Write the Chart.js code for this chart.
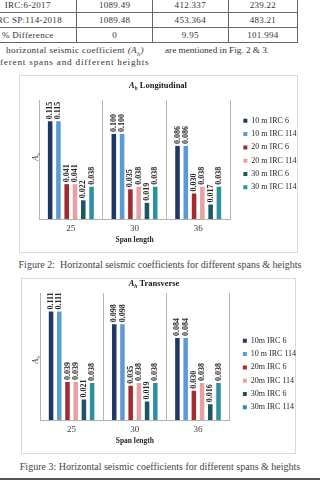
<!DOCTYPE html>
<html><head><meta charset="utf-8">
<script src="https://cdn.jsdelivr.net/npm/chart.js@4.4.1/dist/chart.umd.min.js"></script>
<style>
html,body{margin:0;padding:0;}
body{width:320px;height:481px;overflow:hidden;position:relative;background:#fff;font-family:"Liberation Serif","DejaVu Serif",serif;color:#333;}
.tbl{position:absolute;left:-22px;top:-3px;border-collapse:collapse;table-layout:fixed;font-size:9px;letter-spacing:0.3px;}
.tbl td{border:1px solid #666;text-align:center;padding:0;height:14px;line-height:14px;white-space:nowrap;overflow:hidden;}
.txt{position:absolute;font-size:9.2px;letter-spacing:0.35px;white-space:nowrap;color:#333;line-height:12px;}
.cap{position:absolute;left:0;width:320px;text-align:center;font-size:10px;color:#444;white-space:nowrap;line-height:12px;}
.box{position:absolute;border:1px solid #d9d9d9;box-sizing:border-box;}
canvas{position:absolute;}
.rule{position:absolute;left:0;width:320px;top:478px;height:2px;background:#555;}
</style>
</head><body>
<table class="tbl" id="tbl">
<colgroup><col style="width:107px"><col style="width:88px"><col style="width:89px"><col style="width:80px"></colgroup>
<tbody id="tbody"></tbody>
</table>
<div class="txt" style="left:6px;top:44px;">horizontal seismic coefficient <i>(A<sub style="font-size:6px">h</sub>)</i></div>
<div class="txt" style="left:165px;top:44px;letter-spacing:0;">are mentioned in Fig. 2 &amp; 3.</div>
<div class="txt" style="left:0px;top:56px;letter-spacing:0.8px;">ferent spans and different heights</div>

<div class="box" style="left:19px;top:75px;width:279px;height:178px;"></div>
<canvas id="c1" width="289" height="178" style="left:19px;top:75px;width:289px;height:178px;"></canvas>
<div class="cap" style="top:259px;">Figure 2:&nbsp; Horizontal seismic coefficients for different spans &amp; heights</div>

<div class="box" style="left:21px;top:278px;width:275px;height:176px;"></div>
<canvas id="c2" width="285" height="176" style="left:21px;top:278px;width:285px;height:176px;"></canvas>
<div class="cap" style="top:461px;">Figure 3: Horizontal seismic coefficients for different spans &amp; heights</div>
<div class="rule"></div>

<script>
// ---- table data ----
const tableRowNames = ['IRC:6-2017', 'IRC SP:114-2018', '% Difference'];
const tableCol1 = ['1089.49', '1089.48', '0'];
const tableCol2 = ['412.337', '453.364', '9.95'];
const tableCol3 = ['239.22', '483.21', '101.994'];

// ---- chart data ----
const spans = ['25', '30', '36'];
const longSeriesNames = ['10 m IRC 6', '10 m IRC 114', '20 m IRC 6', '20 m IRC 114', '30 m IRC 6', '30 m IRC 114'];
const transSeriesNames = ['10m IRC 6', '10 m IRC 114', '20m IRC 6', '20m IRC 114', '30m IRC 6', '30m IRC 114'];

const long10IRC6   = [0.115, 0.100, 0.086];
const long10IRC114 = [0.115, 0.100, 0.086];
const long20IRC6   = [0.041, 0.035, 0.030];
const long20IRC114 = [0.041, 0.038, 0.038];
const long30IRC6   = [0.022, 0.019, 0.017];
const long30IRC114 = [0.038, 0.038, 0.038];

const trans10IRC6   = [0.111, 0.098, 0.084];
const trans10IRC114 = [0.111, 0.098, 0.084];
const trans20IRC6   = [0.039, 0.035, 0.030];
const trans20IRC114 = [0.039, 0.038, 0.038];
const trans30IRC6   = [0.021, 0.019, 0.016];
const trans30IRC114 = [0.038, 0.038, 0.038];

const seriesColors = ['#1f3864', '#5b9bd5', '#a32b2f', '#e6a1a4', '#1d5561', '#2e8fa3'];

// build table
const tb = document.getElementById('tbody');
tableRowNames.forEach((n, i) => {
  const tr = document.createElement('tr');
  [n, tableCol1[i], tableCol2[i], tableCol3[i]].forEach(v => {
    const td = document.createElement('td'); td.textContent = v; tr.appendChild(td);
  });
  tb.appendChild(tr);
});

const FONT = '"Liberation Serif", "DejaVu Serif", serif';

const valueLabels = {
  id: 'valueLabels',
  afterDatasetsDraw(chart) {
    const ctx = chart.ctx;
    ctx.save();
    ctx.font = 'bold 8px ' + FONT;
    ctx.fillStyle = '#262626';
    ctx.textAlign = 'left';
    ctx.textBaseline = 'middle';
    chart.data.datasets.forEach((ds, i) => {
      chart.getDatasetMeta(i).data.forEach((bar, j) => {
        ctx.save();
        ctx.translate(bar.x, bar.y - 2);
        ctx.rotate(-Math.PI / 2);
        ctx.fillText(ds.data[j].toFixed(3), 0, 0);
        ctx.restore();
      });
    });
    ctx.restore();
  }
};

function drawAh(ctx, x, y, size, bold, suffix) {
  const w = bold ? 'bold ' : '';
  const fA = 'italic ' + w + size + 'px ' + FONT;
  const fh = 'italic ' + w + (size * 0.62) + 'px ' + FONT;
  const fs = w + size + 'px ' + FONT;
  ctx.font = fA; const wA = ctx.measureText('A').width;
  ctx.font = fh; const wh = ctx.measureText('h').width;
  ctx.font = fs; const ws = suffix ? ctx.measureText(suffix).width : 0;
  const total = wA + wh + ws;
  const sx = x - total / 2;
  ctx.textAlign = 'left';
  ctx.textBaseline = 'middle';
  ctx.font = fA; ctx.fillText('A', sx, y);
  ctx.font = fh; ctx.fillText('h', sx + wA, y + size * 0.3);
  if (suffix) { ctx.font = fs; ctx.fillText(suffix, sx + wA + wh, y); }
}

const titles = {
  id: 'titles',
  afterDraw(chart, args, opts) {
    const ctx = chart.ctx;
    ctx.save();
    ctx.fillStyle = '#1a1a1a';
    drawAh(ctx, opts.tx, opts.ty, 8.5, true, ' ' + opts.text);
    ctx.translate(opts.yx, opts.yy);
    ctx.rotate(-Math.PI / 2);
    ctx.fillStyle = '#404040';
    drawAh(ctx, 0, 0, 8, false, '');
    ctx.restore();
  }
};

function makeChart(id, names, series, ymax, pad, legendTop, tpos) {
  return new Chart(document.getElementById(id), {
    type: 'bar',
    data: {
      labels: spans,
      datasets: series.map((d, i) => ({
        label: names[i], data: d, backgroundColor: seriesColors[i],
        categoryPercentage: 0.78, barPercentage: 0.55
      }))
    },
    options: {
      responsive: false, animation: false, devicePixelRatio: 1,
      layout: { padding: pad },
      scales: {
        x: {
          grid: { display: true, offset: true, color: '#b3b3b3', drawTicks: false },
          border: { display: true, color: '#b3b3b3' },
          ticks: { color: '#404040', font: { family: FONT, size: 9 }, padding: 4 },
          title: { display: true, text: 'Span length', color: '#262626',
                   font: { family: FONT, size: 7.5, weight: 'bold' }, padding: { top: 0, bottom: 8 } },
          afterFit: s => { s.height = 34; }
        },
        y: { display: false, min: 0, max: ymax },
        gap: { type: 'linear', position: 'right', display: true,
               grid: { display: false }, border: { display: false }, ticks: { display: false },
               afterFit: s => { s.width = 8; } }
      },
      plugins: {
        legend: {
          position: 'right', align: 'start',
          title: { display: true, text: ' ', font: { size: 1 }, padding: { top: legendTop, bottom: 0 } },
          labels: { boxWidth: 4, boxHeight: 4, padding: 5.3, color: '#262626',
                    font: { family: FONT, size: 8 } }
        },
        tooltip: { enabled: false },
        titles: tpos
      }
    },
    plugins: [valueLabels, titles]
  });
}

makeChart('c1', longSeriesNames,
  [long10IRC6, long10IRC114, long20IRC6, long20IRC114, long30IRC6, long30IRC114],
  0.14, { top: 25, left: 20, right: 3.6, bottom: 0 }, 10.3,
  { text: 'Longitudinal', tx: 139, ty: 11, yx: 17, yy: 82 });

makeChart('c2', transSeriesNames,
  [trans10IRC6, trans10IRC114, trans20IRC6, trans20IRC114, trans30IRC6, trans30IRC114],
  0.13, { top: 15, left: 19, right: 2.6, bottom: 0 }, 37.3,
  { text: 'Transverse', tx: 133, ty: 6, yx: 15, yy: 82 });
</script>
</body></html>
